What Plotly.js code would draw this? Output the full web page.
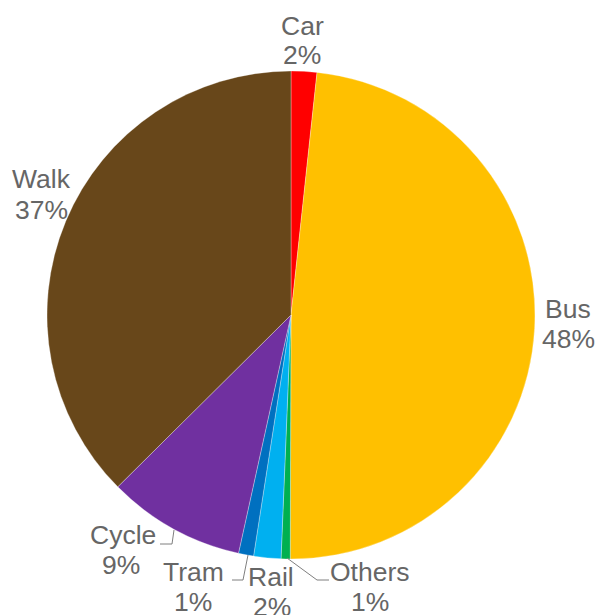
<!DOCTYPE html>
<html>
<head>
<meta charset="utf-8">
<script src="https://cdn.plot.ly/plotly-3.0.1.min.js"></script>
<style>html,body{margin:0;padding:0;background:#fff;}#chart{width:596px;height:615px;}</style>
</head>
<body>
<div id="chart"></div>
<script>
// Data
const labels = ["Car", "Bus", "Others", "Rail", "Tram", "Cycle", "Walk"];
const values = [1.7, 48.3, 0.6, 1.8, 1.0, 9.1, 37.4];
const colors = ["#FF0000", "#FFC000", "#00B050", "#00B0F0", "#0070C0", "#7030A0", "#68471A"];

// Layout geometry (pixels)
const W = 596, H = 615;
const M = {l: 47, r: 61, t: 71, b: 56};
const PW = W - M.l - M.r, PH = H - M.t - M.b;
const px = x => (x - M.l) / PW;
const py = y => (H - M.b - y) / PH;

const total = values.reduce((a, b) => a + b, 0);
const pct = values.map(v => Math.round(v / total * 100) + "%");

// label positions: [name x, name baseline, pct x, pct baseline]
const labelPos = {
  "Car":    [302, 36, 302, 65],
  "Bus":    [568, 319, 568, 349],
  "Others": [370, 582, 370, 612],
  "Rail":   [271, 587, 272, 617],
  "Tram":   [193, 582, 193, 612],
  "Cycle":  [123, 545, 121, 575],
  "Walk":   [41, 189, 41, 220]
};
const FS = 26.5;
const textColor = "#666666";
const annotations = [];
labels.forEach((lab, i) => {
  const p = labelPos[lab];
  [[lab, p[0], p[1]], [pct[i], p[2], p[3]]].forEach(([t, x, b]) => {
    annotations.push({
      text: t, xref: "paper", yref: "paper",
      x: px(x), y: py(b - FS * 0.36), xanchor: "center", yanchor: "middle",
      showarrow: false, font: {family: "Liberation Sans, Arial, sans-serif", size: FS, color: textColor}
    });
  });
});

const leaders = [
  [[160, 544], [172, 544], [174, 530]],
  [[232, 580], [243, 580], [248, 555]],
  [[287, 558], [317, 580], [329, 580]]
];
const shapes = leaders.map(pts => ({
  type: "path", xref: "paper", yref: "paper",
  path: pts.map((p, k) => (k ? "L" : "M") + px(p[0]) + "," + py(p[1])).join(" "),
  line: {color: "#7f7f7f", width: 1}
}));

const trace = {
  type: "pie",
  labels: labels, values: values,
  marker: {colors: colors, line: {color: "rgba(255,255,255,0.6)", width: 0.5}},
  sort: false, direction: "clockwise", rotation: 0,
  textposition: "none", hoverinfo: "label+percent",
  domain: {x: [0, 1], y: [0, 1]}
};

Plotly.newPlot("chart", [trace], {
  width: W, height: H,
  margin: M,
  showlegend: false,
  paper_bgcolor: "#ffffff",
  annotations: annotations,
  shapes: shapes
}, {staticPlot: true});
</script>
</body>
</html>
